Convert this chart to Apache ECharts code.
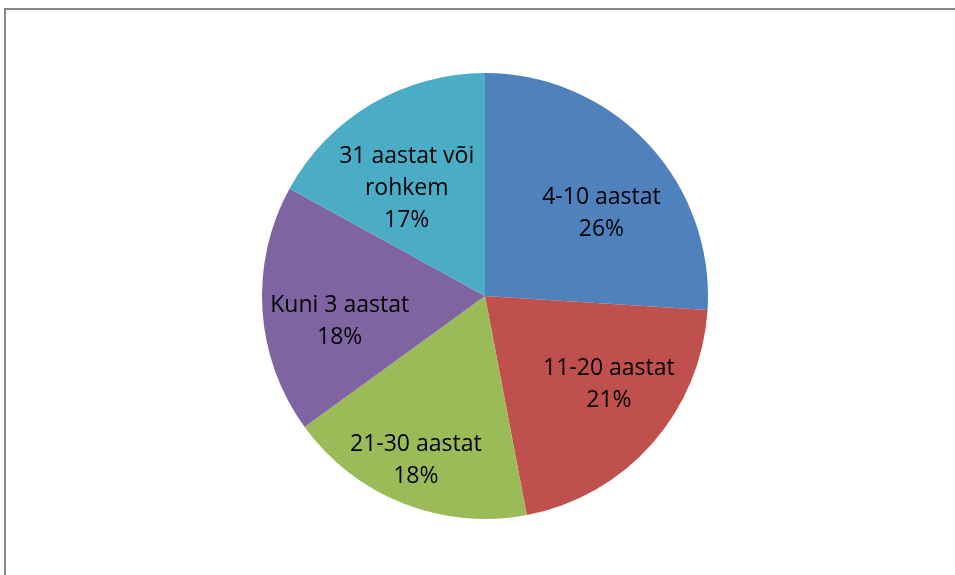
<!DOCTYPE html>
<html>
<head>
<meta charset="utf-8">
<script src="https://cdn.jsdelivr.net/npm/echarts@6/dist/echarts.min.js"></script>
<style>
  html, body { margin: 0; padding: 0; background: #fff; }
  #frame { position: absolute; left: 4px; top: 8px; width: 1200px; height: 800px;
           border-left: 2px solid #868686; border-top: 2px solid #868686; }
  #chart { position: absolute; left: 0; top: 0; width: 955px; height: 575px; }
</style>
</head>
<body>
<div id="frame"></div>
<div id="chart"></div>
<script>
var categories = ['4-10 aastat', '11-20 aastat', '21-30 aastat', 'Kuni 3 aastat', '31 aastat või rohkem'];
var shares = [26, 21, 18, 18, 17];
var colors = ['#4F81BD', '#C0504D', '#9BBB59', '#8064A2', '#4BACC6'];

// nudges so labels sit where the original put them
var labelShift = [[33, -4], [38, 13], [-27, 58], [-31, 18], [-20, -9]];

$(function () {
    initPie();
});

function $(fn) { fn(); }

function initPie() {
    var myChart = echarts.init(document.getElementById('chart'));
    var pieData = [];
    for (var i = 0; i < categories.length; i++) {
        pieData.push({ value: shares[i], name: categories[i] });
    }
    var option = {
        animation: false,
        color: colors,
        series: [
            {
                name: 'Staaž',
                type: 'pie',
                radius: 223,
                center: [485, 296],
                startAngle: 90,
                clockwise: true,
                data: pieData,
                itemStyle: { borderWidth: 0 },
                emphasis: { disabled: true },
                label: {
                    show: true,
                    position: 'inside',
                    formatter: function (p) {
                        return p.name.replace(' või ', ' või\n') + '\n' + p.value + '%';
                    },
                    color: '#000',
                    fontFamily: 'Open Sans',
                    fontSize: 23,
                    lineHeight: 32,
                    align: 'center'
                },
                labelLine: { show: false },
                labelLayout: function (params) {
                    var s = labelShift[params.dataIndex];
                    return { dx: s[0], dy: s[1] };
                }
            }
        ]
    };
    myChart.setOption(option);
}
</script>
</body>
</html>
